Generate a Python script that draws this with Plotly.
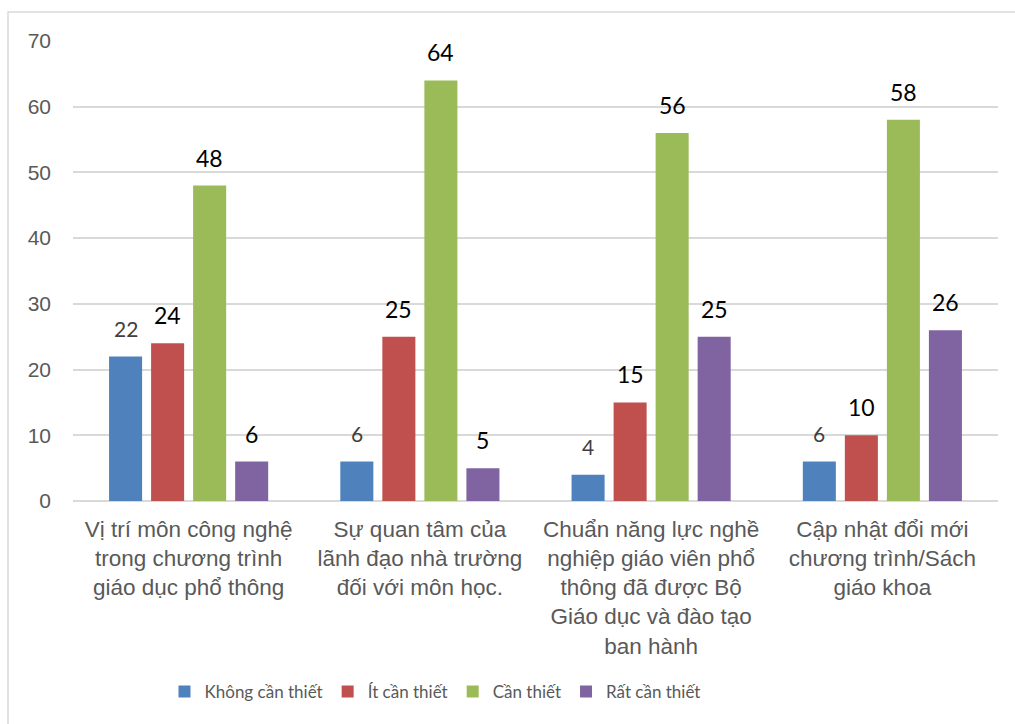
import plotly.graph_objects as go

# Survey categories (wrapped for the category axis)
categories = [
    "Vị trí môn công nghệ<br>trong chương trình<br>giáo dục phổ thông",
    "Sự quan tâm của<br>lãnh đạo nhà trường<br>đối với môn học.",
    "Chuẩn năng lực nghề<br>nghiệp giáo viên phổ<br>thông đã được Bộ<br>Giáo dục và đào tạo<br>ban hành",
    "Cập nhật đổi mới<br>chương trình/Sách<br>giáo khoa",
]

series_names = ["Không cần thiết", "Ít cần thiết", "Cần thiết", "Rất cần thiết"]
khong_can_thiet = [22, 6, 4, 6]
it_can_thiet = [24, 25, 15, 10]
can_thiet = [48, 64, 56, 58]
rat_can_thiet = [6, 5, 25, 26]
y_ticks = [0, 10, 20, 30, 40, 50, 60, 70]

series_values = [khong_can_thiet, it_can_thiet, can_thiet, rat_can_thiet]
colors = ["#4F81BD", "#C0504D", "#9BBB59", "#8064A2"]
label_colors = ["#404040", "#000000", "#000000", "#000000"]
label_sizes = [21, 23, 23, 23]

BARGAP = 0.273
BARGROUPGAP = 0.214

fig = go.Figure()
for name, vals, col in zip(series_names, series_values, colors):
    fig.add_trace(go.Bar(
        name=name,
        x=list(range(len(categories))),
        y=vals,
        marker=dict(color=col, line=dict(width=0)),
        hoverinfo="y+name",
    ))

# Value labels above each bar, positioned at the grouped-bar offsets
n = len(series_values)
slot = (1 - BARGAP) / n
annotations = []
for k, (vals, lc, ls) in enumerate(zip(series_values, label_colors, label_sizes)):
    off = (k - (n - 1) / 2) * slot
    for i, v in enumerate(vals):
        annotations.append(dict(
            x=i + off, y=v, xref="x", yref="y",
            text=str(v), showarrow=False,
            yanchor="middle", yshift=28,
            font=dict(family="Lato, sans-serif", size=ls, color=lc),
        ))

fig.update_layout(
    width=1015, height=724,
    margin=dict(l=73, r=17, t=41, b=223),
    paper_bgcolor="white", plot_bgcolor="white",
    barmode="group", bargap=BARGAP, bargroupgap=BARGROUPGAP,
    annotations=annotations,
    showlegend=True,
    legend=dict(
        orientation="h", x=(435 - 73) / 925, xanchor="center", y=-0.415, yanchor="middle",
        font=dict(family="Lato, sans-serif", size=17, color="#595959"),
        traceorder="normal", itemwidth=30,
    ),
    xaxis=dict(
        tickmode="array", tickvals=list(range(len(categories))), ticktext=categories,
        range=[-0.5, len(categories) - 0.5],
        showgrid=False, showline=False, ticks="",
        tickfont=dict(family="Liberation Sans, Arial, sans-serif", size=22.5, color="#595959"),
        ticklabelstandoff=12, tickangle=0,
    ),
    yaxis=dict(
        range=[0, 70], tickvals=y_ticks,
        showgrid=True, gridcolor="#D9D9D9", gridwidth=1.5,
        zeroline=True, zerolinecolor="#D9D9D9", zerolinewidth=1.5,
        showline=False, ticks="",
        tickfont=dict(family="Liberation Sans, Arial, sans-serif", size=21, color="#595959"),
        ticklabelstandoff=21,
    ),
    shapes=[dict(
        type="rect", xref="paper", yref="paper",
        x0=(8 - 73) / 925, x1=1.1, y0=-0.6, y1=(501 - 12) / 460,
        line=dict(color="#D9D9D9", width=1.5), fillcolor="rgba(0,0,0,0)",
        layer="below",
    )],
)

fig.write_html("out.html")
